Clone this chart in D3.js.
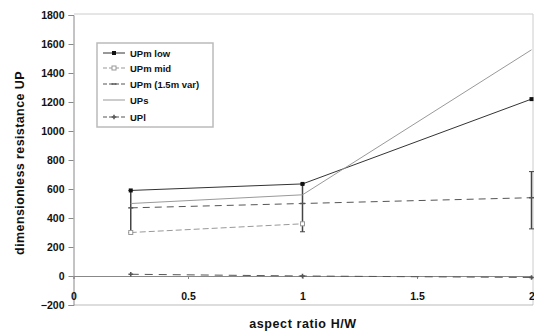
<!DOCTYPE html>
<html>
<head>
<meta charset="utf-8">
<script src="https://cdn.jsdelivr.net/npm/d3@7"></script>
<style>
  body { margin: 0; background: #fff; }
  text { font-family: "Liberation Sans", Arial, sans-serif; font-weight: bold; fill: #111; }
</style>
</head>
<body>
<svg id="chart" width="534" height="335"></svg>
<script>
// data
var ratios = [0.25, 1, 2];
var upm_low = [590, 635, 1220];
var ups = [500, 560, 1560];
var upm_var = [470, 500, 540];
var upm_mid = [300, 360, null];
var upl = [12, 0, -10];
var err_low = [300, 305, 325];
var err_high = [590, 635, 720];
var x_ticks = [0, 0.5, 1, 1.5, 2];
var y_ticks = [-200, 0, 200, 400, 600, 800, 1000, 1200, 1400, 1600, 1800];

var series = [
  {name: "UPm low", values: upm_low, color: "#333", dash: null, marker: "square"},
  {name: "UPm mid", values: upm_mid, color: "#999", dash: "6,3", marker: "open"},
  {name: "UPm (1.5m var)", values: upm_var, color: "#555", dash: "7,5", marker: "dash"},
  {name: "UPs", values: ups, color: "#999", dash: null, marker: null},
  {name: "UPl", values: upl, color: "#555", dash: "8,6", marker: "star"}
];

var svg = d3.select("#chart");
var x = d3.scaleLinear().domain([0, 2]).range([73.5, 531.5]);
var y = d3.scaleLinear().domain([-200, 1800]).range([305, 15]);

// plot frame
svg.append("line").attr("x1", 74).attr("x2", 533).attr("y1", 14).attr("y2", 14).style("stroke", "#ccc");
svg.append("line").attr("x1", 533).attr("x2", 533).attr("y1", 14).attr("y2", 305).style("stroke", "#ccc");
svg.append("line").attr("x1", 74).attr("x2", 533).attr("y1", 305).attr("y2", 305).style("stroke", "#bbb");

// y axis
var yAxis = d3.axisLeft(y).tickValues(y_ticks).tickSize(5).tickPadding(4).tickFormat(d3.format("d"));
var gy = svg.append("g").attr("transform", "translate(73.5,0)").call(yAxis);
gy.select(".domain").style("stroke", "#888");
gy.selectAll(".tick line").style("stroke", "#888");
gy.selectAll("text").style("font-size", "10.5px").style("font-weight", "bold").attr("fill", "#111");

// zero line acting as category axis
var xAxis = d3.axisBottom(x).tickValues(x_ticks).tickSize(3).tickFormat(d3.format("")).tickPadding(14);
var gx = svg.append("g").attr("transform", "translate(0," + y(0) + ")").call(xAxis);
gx.select(".domain").style("stroke", "#888");
gx.selectAll(".tick line").style("stroke", "#888");
gx.selectAll("text").style("font-size", "10.5px").style("font-weight", "bold").attr("fill", "#111");

// axis titles
svg.append("text").attr("x", 303).attr("y", 328).attr("text-anchor", "middle").style("font-size", "12.5px").style("letter-spacing", "0.6px").text("aspect ratio H/W");
svg.append("text").attr("transform", "translate(24,163) rotate(-90)").attr("text-anchor", "middle").style("font-size", "12.5px").style("letter-spacing", "0.4px").text("dimensionless resistance UP");

// error bars
for (var i = 0; i < ratios.length; i++) {
  var cx = x(ratios[i]);
  svg.append("line").attr("x1", cx).attr("x2", cx).attr("y1", y(err_low[i])).attr("y2", y(err_high[i])).style("stroke", "#444").style("stroke-width", 1.5);
  svg.append("line").attr("x1", cx - 2.5).attr("x2", cx + 2.5).attr("y1", y(err_low[i])).attr("y2", y(err_low[i])).style("stroke", "#444");
  svg.append("line").attr("x1", cx - 2.5).attr("x2", cx + 2.5).attr("y1", y(err_high[i])).attr("y2", y(err_high[i])).style("stroke", "#444");
}

function drawMarker(g, type, cx, cy, color) {
  if (type == "square") {
    g.append("rect").attr("x", cx - 2).attr("y", cy - 2).attr("width", 4).attr("height", 4).style("fill", "#111");
  } else if (type == "open") {
    g.append("rect").attr("x", cx - 2).attr("y", cy - 2).attr("width", 4).attr("height", 4).style("fill", "#fff").style("stroke", color);
  } else if (type == "dash") {
    g.append("line").attr("x1", cx - 2.5).attr("x2", cx + 2.5).attr("y1", cy).attr("y2", cy).style("stroke", color).style("stroke-width", 1.5);
  } else if (type == "star") {
    g.append("path").attr("d", d3.symbol(d3.symbolCross, 12)()).attr("transform", "translate(" + cx + "," + cy + ")").style("fill", "#555");
  }
}

// lines
var line = d3.line().defined(function(d) { return d[1] != null; }).x(function(d) { return x(d[0]); }).y(function(d) { return y(d[1]); });
for (var s = 0; s < series.length; s++) {
  var pts = ratios.map(function(r, i) { return [r, series[s].values[i]]; });
  var p = svg.append("path").datum(pts).attr("d", line).style("fill", "none").style("stroke", series[s].color).style("stroke-width", 1);
  if (series[s].dash) p.style("stroke-dasharray", series[s].dash);
  for (var i = 0; i < pts.length; i++) {
    if (pts[i][1] != null && series[s].marker) drawMarker(svg, series[s].marker, x(pts[i][0]), y(pts[i][1]), series[s].color);
  }
}

// legend
var lg = svg.append("g").attr("transform", "translate(97,43)");
lg.append("rect").attr("width", 116).attr("height", 84).style("fill", "#fff").style("stroke", "#bbb").style("stroke-width", 1.5);
var ly = [10, 25, 41, 57, 74];
for (var s = 0; s < series.length; s++) {
  var row = lg.append("g").attr("transform", "translate(0," + ly[s] + ")");
  var ln = row.append("line").attr("x1", 6).attr("x2", 28).attr("y1", 0).attr("y2", 0).style("stroke", series[s].color).style("stroke-width", 1);
  if (series[s].dash) ln.style("stroke-dasharray", "4,2");
  if (series[s].marker) drawMarker(row, series[s].marker, 17, 0, series[s].color);
  row.append("text").attr("x", 33).attr("y", 3.5).style("font-size", "9.5px").text(series[s].name);
}
</script>
</body>
</html>
